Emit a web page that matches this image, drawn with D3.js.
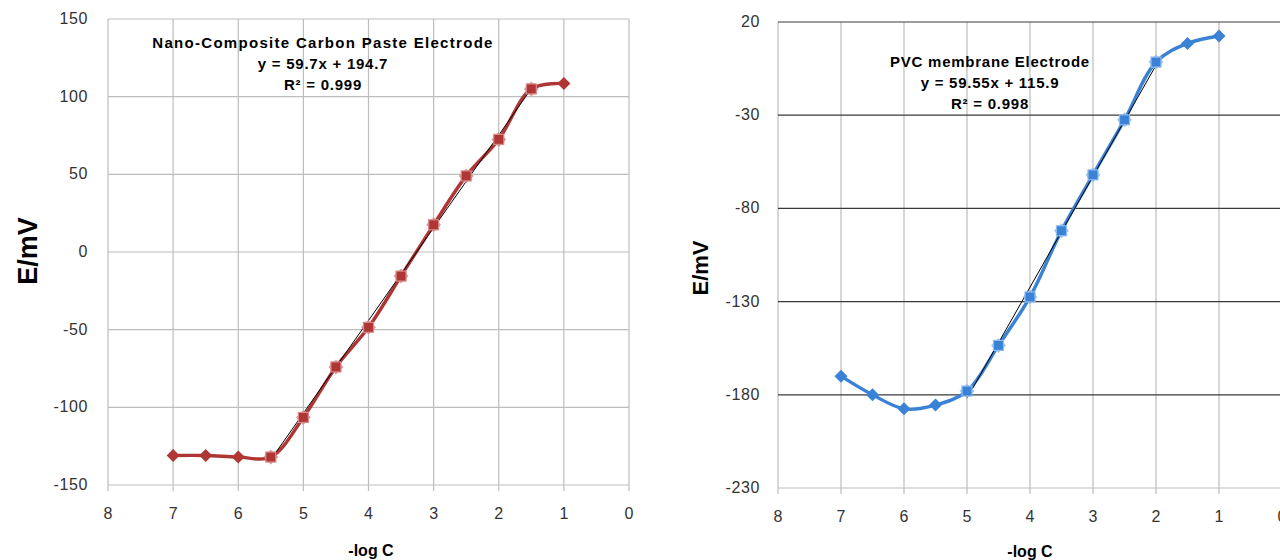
<!DOCTYPE html>
<html>
<head>
<meta charset="utf-8">
<script src="https://cdn.jsdelivr.net/npm/d3@7"></script>
<style>
  body { margin: 0; background: #fff; }
  text { font-family: "Liberation Sans", Arial, sans-serif; }
</style>
</head>
<body>
<div id="chart"></div>
<script>
// -log C values, shared by both charts
var xVals = [7, 6.5, 6, 5.5, 5, 4.5, 4, 3.5, 3, 2.5, 2, 1.5, 1];
var xTicks = [8, 7, 6, 5, 4, 3, 2, 1, 0];

// Nano-Composite Carbon Paste Electrode (mV)
var cpeValues = [-131, -131, -132, -132, -106.5, -74, -48.5, -15.5, 17.5, 49, 72.5, 105, 108.5];
var cpeLinear = [5.5, 1.5];
var cpeTicks = [150, 100, 50, 0, -50, -100, -150];
var cpeFit = { slope: 59.7, icpt: 194.7 };
var cpeText = ['Nano-Composite Carbon Paste Electrode', 'y = 59.7x + 194.7', 'R\u00B2 = 0.999'];

// PVC membrane Electrode (mV)
var pvcValues = [-170, -180, -187.5, -185.5, -178, -153.5, -127.5, -92, -62, -32.5, -1.5, 8.5, 12.5];
var pvcLinear = [5, 2];
var pvcTicks = [20, -30, -80, -130, -180, -230];
var pvcFit = { slope: 59.55, icpt: 115.9 };
var pvcText = ['PVC membrane Electrode', 'y = 59.55x + 115.9', 'R\u00B2 = 0.998'];

var svg = d3.select('#chart').append('svg')
    .attr('width', 1280)
    .attr('height', 560);

function diamond(s) {
  return 'M0,' + (-s) + 'L' + s + ',0L0,' + s + 'L' + (-s) + ',0Z';
}

function drawChart(o) {
  var g = svg.append('g');
  var x = d3.scaleLinear().domain([8, 0]).range(o.xr);
  var y = d3.scaleLinear().domain([o.ticks[o.ticks.length - 1], o.ticks[0]]).range(o.yr);

  // vertical grid
  g.selectAll('.vg').data(xTicks).enter().append('line')
      .attr('x1', function(d){ return x(d); }).attr('x2', function(d){ return x(d); })
      .attr('y1', o.yr[1]).attr('y2', o.yr[0] + 6)
      .style('stroke', '#bdbdbd').style('stroke-width', 1.2);
  // horizontal grid
  g.selectAll('.hg').data(o.ticks).enter().append('line')
      .attr('x1', o.xr[0]).attr('x2', o.xr[1])
      .attr('y1', function(d){ return y(d); }).attr('y2', function(d){ return y(d); })
      .style('stroke', function(d, i){ return (o.darkH && i < o.ticks.length - 1) ? '#3a3a3a' : '#bdbdbd'; })
      .style('stroke-width', 1.2);

  // tick labels
  g.selectAll('.yl').data(o.ticks).enter().append('text')
      .attr('x', o.xr[0] - o.ygap).attr('y', function(d){ return y(d) + 5; })
      .attr('text-anchor', 'end').style('font-size', '16px').style('fill', '#333')
      .style('letter-spacing', '0.6px')
      .text(function(d){ return d; });
  g.selectAll('.xl').data(xTicks).enter().append('text')
      .attr('x', function(d){ return x(d); }).attr('y', o.yr[0] + 34)
      .attr('text-anchor', 'middle').style('font-size', '16px').style('fill', '#333')
      .text(function(d){ return d; });

  // axis titles
  g.append('text')
      .attr('transform', 'translate(' + o.ylabX + ',' + o.ylabY + ') rotate(-90)')
      .attr('text-anchor', 'middle').style('font-size', o.ylabSize).style('font-weight', 'bold')
      .text('E/mV');
  g.append('text')
      .attr('x', o.xlabX).attr('y', o.xlabY)
      .attr('text-anchor', 'middle').style('font-size', o.xlabSize).style('font-weight', 'bold')
      .text('-log C');

  var pts = xVals.map(function(d, i){ return [d, o.values[i]]; });

  // smoothed data line
  g.append('path')
      .datum(pts)
      .attr('d', d3.line().curve(d3.curveCatmullRom.alpha(0.5))
        .x(function(d){ return x(d[0]); })
        .y(function(d){ return y(d[1]); }))
      .style('fill', 'none').style('stroke', o.color).style('stroke-width', 3.4);

  // linear fit
  g.append('line')
      .attr('x1', x(o.lin[0])).attr('y1', y(o.fit.icpt - o.fit.slope * o.lin[0]))
      .attr('x2', x(o.lin[1])).attr('y2', y(o.fit.icpt - o.fit.slope * o.lin[1]))
      .style('stroke', '#000').style('stroke-width', 1);

  // markers
  pts.forEach(function(p){
    var inLin = p[0] <= o.lin[0] && p[0] >= o.lin[1];
    var cx = x(p[0]), cy = y(p[1]);
    if (inLin) {
      g.append('path')
          .attr('d', diamond(7.5))
          .attr('transform', 'translate(' + cx + ',' + cy + ')')
          .style('fill', o.light).style('opacity', 0.85);
      g.append('rect')
          .attr('x', cx - 5).attr('y', cy - 5).attr('width', 10).attr('height', 10)
          .style('fill', o.color).style('stroke', o.light).style('stroke-width', 1.2);
    } else {
      g.append('path')
          .attr('d', diamond(6.5))
          .attr('transform', 'translate(' + cx + ',' + cy + ')')
          .style('fill', o.color);
    }
  });

  // annotation
  o.text.forEach(function(t, i){
    g.append('text')
        .attr('x', o.tx).attr('y', o.ty + i * 21)
        .attr('text-anchor', 'middle').style('font-size', '15px').style('font-weight', 'bold')
        .style('letter-spacing', i === 0 ? o.t0sp : '0.75px')
        .text(t);
  });
}

drawChart({
  xr: [108, 629], yr: [485, 19], ticks: cpeTicks, values: cpeValues,
  lin: cpeLinear, fit: cpeFit, text: cpeText, color: '#b03535', light: '#d98a8a',
  darkH: false, ygap: 20, ylabX: 37, ylabY: 251, ylabSize: '27px',
  xlabX: 371, xlabY: 556, xlabSize: '16px', tx: 323, ty: 48, t0sp: '1.3px'
});
drawChart({
  xr: [778, 1282], yr: [488, 22], ticks: pvcTicks, values: pvcValues,
  lin: pvcLinear, fit: pvcFit, text: pvcText, color: '#3a82d6', light: '#8fbcef',
  darkH: true, ygap: 18, ylabX: 708, ylabY: 268, ylabSize: '22px',
  xlabX: 1030, xlabY: 557, xlabSize: '16px', tx: 990, ty: 67, t0sp: '0.75px'
});
</script>
</body>
</html>
